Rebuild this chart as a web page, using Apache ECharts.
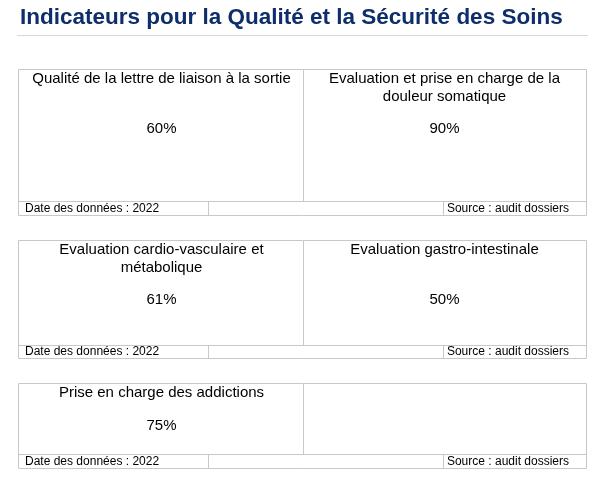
<!DOCTYPE html><html><head><meta charset="utf-8"><script src="https://cdn.jsdelivr.net/npm/echarts@6/dist/echarts.min.js"></script>
<style>html,body{margin:0;background:#fff}#c{width:608px;height:483px}</style></head><body><div id="c"></div><script>
const pageTitle = 'Indicateurs pour la Qualité et la Sécurité des Soins';
const indicators = ['Qualité de la lettre de liaison à la sortie','Evaluation et prise en charge de la\ndouleur somatique','Evaluation cardio-vasculaire et\nmétabolique','Evaluation gastro-intestinale','Prise en charge des addictions'];
const values = [60, 90, 61, 50, 75];
const dateLabel = 'Date des données : 2022';
const sourceLabel = 'Source : audit dossiers';
// layout
const rows = [{top:69,main:132,foot:14,valOff:60},{top:240,main:105,foot:13,valOff:60},{top:383,main:71,foot:14,valOff:43}];
const L=18,R=586,M=303,F1=208,F2=443;
const g=[];
const font='Liberation Sans, Arial, sans-serif';
g.push({type:'text',style:{text:pageTitle,x:20,y:18,verticalAlign:'middle',font:'bold 22.5px '+font,fill:'#0e2d6b'}});
g.push({type:'line',shape:{x1:17,y1:35.5,x2:588,y2:35.5},style:{stroke:'#d4d8de',lineWidth:1}});
rows.forEach((r,ri)=>{
  const b=r.top+r.main, e=b+r.foot, s={stroke:'#c8c8c8',lineWidth:1,fill:null};
  g.push({type:'rect',shape:{x:L+.5,y:r.top+.5,width:R-L,height:e-r.top},style:s});
  g.push({type:'line',shape:{x1:L,y1:b+.5,x2:R,y2:b+.5},style:s});
  g.push({type:'line',shape:{x1:M+.5,y1:r.top,x2:M+.5,y2:b},style:s});
  g.push({type:'line',shape:{x1:F1+.5,y1:b,x2:F1+.5,y2:e},style:s});
  g.push({type:'line',shape:{x1:F2+.5,y1:b,x2:F2+.5,y2:e},style:s});
  g.push({type:'text',style:{text:dateLabel,x:25,y:b+r.foot/2+.5,verticalAlign:'middle',font:'12px '+font,fill:'#000'}});
  g.push({type:'text',style:{text:sourceLabel,x:569,y:b+r.foot/2+.5,align:'right',verticalAlign:'middle',font:'12px '+font,fill:'#000'}});
  [0,1].forEach(ci=>{
    const idx=ri*2+ci; if(idx>=indicators.length) return;
    const cx = ci===0 ? (L+M)/2+1 : (M+R)/2;
    g.push({type:'text',style:{text:indicators[idx],x:cx,y:r.top+1,align:'center',verticalAlign:'top',font:'15px '+font,lineHeight:18,fill:'#000'}});
    g.push({type:'text',style:{text:values[idx]+'%',x:cx,y:r.top+r.valOff,align:'center',verticalAlign:'middle',font:'15px '+font,fill:'#000'}});
  });
});
const ch=echarts.init(document.getElementById('c'));
ch.setOption({animation:false,graphic:g});
</script></body></html>
